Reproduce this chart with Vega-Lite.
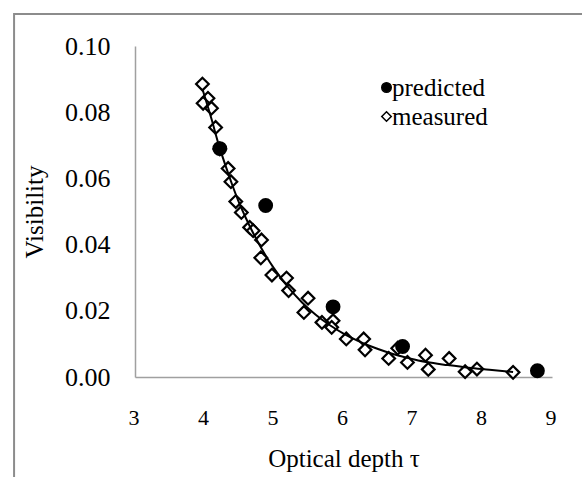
{
  "$schema": "https://vega.github.io/schema/vega-lite/v6.json",
  "width": 417,
  "height": 331,
  "autosize": {"type": "none"},
  "padding": {"left": 135, "top": 46, "right": 30, "bottom": 100},
  "background": "white",
  "config": {
    "view": {"stroke": null},
    "font": "serif",
    "axis": {
      "labelColor": "#000",
      "titleColor": "#000",
      "titleFontWeight": "normal",
      "domainColor": "#a0a0a0",
      "domainWidth": 1.5,
      "ticks": false,
      "grid": false,
      "labelFlush": false
    },
    "legend": {
      "labelColor": "#000"
    }
  },
  "datasets": {
    "points": [
      {"tau": 3.97, "vis": 0.0885, "series": "measured"},
      {"tau": 4.05, "vis": 0.0842, "series": "measured"},
      {"tau": 3.98, "vis": 0.0827, "series": "measured"},
      {"tau": 4.10, "vis": 0.0812, "series": "measured"},
      {"tau": 4.16, "vis": 0.0754, "series": "measured"},
      {"tau": 4.22, "vis": 0.0689, "series": "measured"},
      {"tau": 4.34, "vis": 0.0630, "series": "measured"},
      {"tau": 4.38, "vis": 0.0590, "series": "measured"},
      {"tau": 4.45, "vis": 0.0530, "series": "measured"},
      {"tau": 4.53, "vis": 0.0497, "series": "measured"},
      {"tau": 4.65, "vis": 0.0452, "series": "measured"},
      {"tau": 4.70, "vis": 0.0442, "series": "measured"},
      {"tau": 4.82, "vis": 0.0414, "series": "measured"},
      {"tau": 4.81, "vis": 0.0360, "series": "measured"},
      {"tau": 4.97, "vis": 0.0308, "series": "measured"},
      {"tau": 5.18, "vis": 0.0299, "series": "measured"},
      {"tau": 5.21, "vis": 0.0261, "series": "measured"},
      {"tau": 5.49, "vis": 0.0238, "series": "measured"},
      {"tau": 5.43, "vis": 0.0195, "series": "measured"},
      {"tau": 5.69, "vis": 0.0165, "series": "measured"},
      {"tau": 5.85, "vis": 0.0170, "series": "measured"},
      {"tau": 5.83, "vis": 0.0150, "series": "measured"},
      {"tau": 6.04, "vis": 0.0115, "series": "measured"},
      {"tau": 6.29, "vis": 0.0115, "series": "measured"},
      {"tau": 6.31, "vis": 0.0082, "series": "measured"},
      {"tau": 6.65, "vis": 0.0056, "series": "measured"},
      {"tau": 6.78, "vis": 0.0087, "series": "measured"},
      {"tau": 6.92, "vis": 0.0044, "series": "measured"},
      {"tau": 7.18, "vis": 0.0066, "series": "measured"},
      {"tau": 7.22, "vis": 0.0023, "series": "measured"},
      {"tau": 7.52, "vis": 0.0056, "series": "measured"},
      {"tau": 7.75, "vis": 0.0016, "series": "measured"},
      {"tau": 7.92, "vis": 0.0024, "series": "measured"},
      {"tau": 8.44, "vis": 0.0014, "series": "measured"},
      {"tau": 4.22, "vis": 0.0690, "series": "predicted"},
      {"tau": 4.88, "vis": 0.0518, "series": "predicted"},
      {"tau": 5.85, "vis": 0.0212, "series": "predicted"},
      {"tau": 6.85, "vis": 0.0092, "series": "predicted"},
      {"tau": 8.79, "vis": 0.0019, "series": "predicted"}
    ],
    "fit": [
      {"tau": 3.97, "vis": 0.0870},
      {"tau": 4.1, "vis": 0.0780},
      {"tau": 4.2, "vis": 0.0705},
      {"tau": 4.3, "vis": 0.0640},
      {"tau": 4.4, "vis": 0.0580},
      {"tau": 4.5, "vis": 0.0525},
      {"tau": 4.6, "vis": 0.0478},
      {"tau": 4.7, "vis": 0.0435},
      {"tau": 4.8, "vis": 0.0396},
      {"tau": 4.9, "vis": 0.0360},
      {"tau": 5.0, "vis": 0.0328},
      {"tau": 5.2, "vis": 0.0272},
      {"tau": 5.4, "vis": 0.0226},
      {"tau": 5.6, "vis": 0.0188},
      {"tau": 5.8, "vis": 0.0157},
      {"tau": 6.0, "vis": 0.0131},
      {"tau": 6.2, "vis": 0.0110},
      {"tau": 6.4, "vis": 0.0092},
      {"tau": 6.6, "vis": 0.0077},
      {"tau": 6.8, "vis": 0.0064},
      {"tau": 7.0, "vis": 0.0054},
      {"tau": 7.2, "vis": 0.0045},
      {"tau": 7.5, "vis": 0.0036},
      {"tau": 7.8, "vis": 0.0028},
      {"tau": 8.1, "vis": 0.0022},
      {"tau": 8.44, "vis": 0.0015}
    ],
    "frame": [
      {"x0": 1.26, "x1": 9.6, "y0": -0.04, "y1": 0.10965}
    ]
  },
  "layer": [
    {
      "data": {"name": "frame"},
      "mark": {"type": "rect", "fill": null, "stroke": "#8c8c8c", "strokeWidth": 2, "clip": false},
      "encoding": {
        "x": {"field": "x0", "type": "quantitative", "scale": {"domain": [3, 9], "nice": false, "zero": false}},
        "x2": {"field": "x1"},
        "y": {"field": "y0", "type": "quantitative", "scale": {"domain": [0, 0.1], "nice": false}},
        "y2": {"field": "y1"}
      }
    },
    {
      "data": {"name": "points"},
      "mark": {"type": "point", "filled": false, "stroke": "#000", "strokeWidth": 2.2, "opacity": 1},
      "encoding": {
        "x": {
          "field": "tau", "type": "quantitative",
          "scale": {"domain": [3, 9], "nice": false, "zero": false},
          "axis": {"values": [3, 4, 5, 6, 7, 8, 9], "format": "d", "title": "Optical depth τ", "labelFont": "serif", "titleFont": "serif", "labelFontSize": 22, "titleFontSize": 25, "labelPadding": 30, "labelOffset": -1.5, "titlePadding": 18}
        },
        "y": {
          "field": "vis", "type": "quantitative",
          "scale": {"domain": [0, 0.1], "nice": false},
          "axis": {"values": [0, 0.02, 0.04, 0.06, 0.08, 0.1], "format": ".2f", "title": "Visibility", "labelFont": "serif", "titleFont": "serif", "labelFontSize": 26, "titleFontSize": 25, "labelPadding": 25, "titlePadding": 17}
        },
        "shape": {
          "field": "series", "type": "nominal",
          "scale": {"domain": ["predicted", "measured"], "range": ["circle", "diamond"]},
          "legend": {"title": null, "orient": "none", "legendX": 239, "legendY": 29, "labelFont": "serif", "labelFontSize": 25, "symbolSize": 90, "labelOffset": -7, "rowPadding": 3, "padding": 0,
            "encode": {"symbols": {"update": {"stroke": {"value": "#000"}, "strokeWidth": {"value": 2}}}}}
        },
        "fill": {
          "field": "series", "type": "nominal",
          "scale": {"domain": ["predicted", "measured"], "range": ["#000", "#fff"]},
          "legend": {"title": null, "orient": "none", "legendX": 239, "legendY": 29, "labelFont": "serif", "labelFontSize": 25, "symbolSize": 90, "labelOffset": -7, "rowPadding": 3, "padding": 0,
            "encode": {"symbols": {"update": {"stroke": {"value": "#000"}, "strokeWidth": {"value": 2}}}}}
        },
        "size": {"value": 160}
      }
    },
    {
      "data": {"name": "fit"},
      "mark": {"type": "line", "color": "#000", "strokeWidth": 2, "interpolate": "monotone"},
      "encoding": {
        "x": {"field": "tau", "type": "quantitative"},
        "y": {"field": "vis", "type": "quantitative"}
      }
    }
  ]
}
